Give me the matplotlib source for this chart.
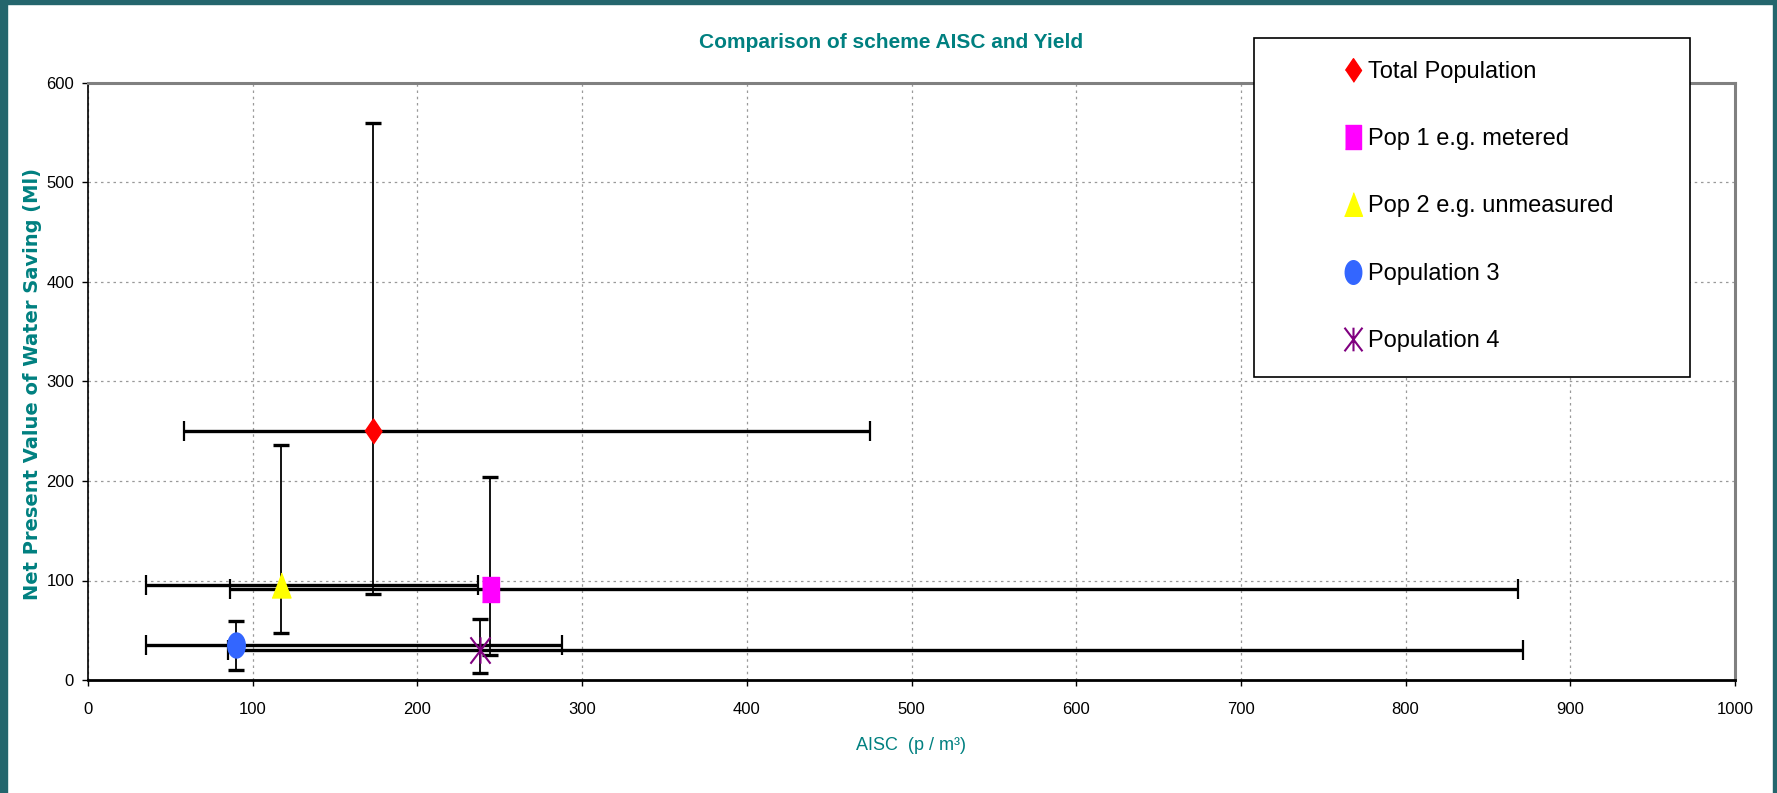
import numpy as np
import matplotlib
matplotlib.use("Agg")
import matplotlib.pyplot as plt
from matplotlib.path import Path
from matplotlib.patches import Rectangle
from matplotlib.lines import Line2D

# data
names = ["Total Population", "Pop 1 e.g. metered", "Pop 2 e.g. unmeasured",
         "Population 3", "Population 4"]
aisc = [173, 244, 117, 90, 238]
aisc_low = [58, 86, 35, 35, 85]
aisc_high = [475, 868, 237, 288, 871]
saving = [250, 91, 95, 35, 30]
saving_low = [86, 25, 47, 10, 7]
saving_high = [560, 204, 236, 59, 61]

colors = ["#ff0000", "#ff00ff", "#ffff00", "#3366ff", "#800080"]
teal = "#008080"
narrow = ["Liberation Sans Narrow", "Liberation Sans", "DejaVu Sans"]

# markers a bit taller than wide, like the original
diamond = [(0, -0.5), (0.34, 0), (0, 0.5), (-0.34, 0)]
square = [(-0.34, -0.5), (0.34, -0.5), (0.34, 0.5), (-0.34, 0.5)]
triangle = [(-0.38, -0.5), (0.38, -0.5), (0, 0.5)]
t = np.linspace(0, 2 * np.pi, 40)
ellipse = list(zip(0.35 * np.cos(t), 0.5 * np.sin(t)))
star = Path([(-0.38, -0.5), (0.38, 0.5), (-0.38, 0.5), (0.38, -0.5), (0, -0.5), (0, 0.5)],
            [Path.MOVETO, Path.LINETO, Path.MOVETO, Path.LINETO, Path.MOVETO, Path.LINETO])
markers = [diamond, square, triangle, ellipse, star]

fig = plt.figure(figsize=(17.77, 7.93), dpi=100)
fig.patch.set_facecolor("white")
ax = fig.add_axes([88 / 1777, 1 - 680 / 793, (1735 - 88) / 1777, (680 - 83) / 793])

# teal frame round the picture
border = "#24666d"
fig.patches.append(Rectangle((0, 0), 7 / 1777, 1, transform=fig.transFigure, color=border, zorder=0))
fig.patches.append(Rectangle((0, 1 - 4 / 793), 1, 4 / 793, transform=fig.transFigure, color=border, zorder=0))
fig.patches.append(Rectangle((1 - 4 / 1777, 0), 4 / 1777, 1, transform=fig.transFigure, color=border, zorder=0))

x = np.array(aisc)
y = np.array(saving)
xerr = [x - np.array(aisc_low), np.array(aisc_high) - x]
yerr = [y - np.array(saving_low), np.array(saving_high) - y]

ax.errorbar(x, y, xerr=xerr, fmt="none", ecolor="black", elinewidth=2.4,
            capsize=7, capthick=1.6, zorder=3)
ax.errorbar(x, y, yerr=yerr, fmt="none", ecolor="black", elinewidth=1.3,
            capsize=5.8, capthick=2.4, zorder=3)

handles = []
for i in range(len(names)):
    if i == 4:
        ax.plot(x[i], y[i], marker=markers[i], markersize=19, linestyle="none",
                markerfacecolor="none", markeredgecolor=colors[i], markeredgewidth=1.5, zorder=4)
        handles.append(Line2D([], [], marker=markers[i], markersize=17, linestyle="none",
                              markerfacecolor="none", markeredgecolor=colors[i], markeredgewidth=1.5))
    else:
        ax.plot(x[i], y[i], marker=markers[i], markersize=18, linestyle="none",
                markerfacecolor=colors[i], markeredgecolor=colors[i], zorder=4)
        handles.append(Line2D([], [], marker=markers[i], markersize=17, linestyle="none",
                              markerfacecolor=colors[i], markeredgecolor=colors[i]))

ax.set_xlim(0, 1000)
ax.set_ylim(0, 600)
ax.set_xticks(np.arange(0, 1001, 100))
ax.set_yticks(np.arange(0, 601, 100))
ax.grid(True, linestyle=(0, (2, 3)), color="#999999", linewidth=0.9)
ax.set_axisbelow(True)
ax.tick_params(direction="out", length=4, width=1, labelsize=12, pad=6)
for lab in ax.get_xticklabels() + ax.get_yticklabels():
    lab.set_family(narrow)
ax.tick_params(axis="x", pad=12)

for side in ["top", "right"]:
    ax.spines[side].set_color("#808080")
    ax.spines[side].set_linewidth(2.2)
ax.spines["left"].set_color("black")
ax.spines["left"].set_linewidth(1.2)
ax.spines["bottom"].set_color("black")
ax.spines["bottom"].set_linewidth(2.0)

fig.text(891 / 1777, 1 - 43 / 793, "Comparison of scheme AISC and Yield", color=teal,
         fontsize=15, fontweight="bold", family=narrow, ha="center", va="center")
fig.text(33 / 1777, 1 - 384 / 793, "Net Present Value of Water Saving (Ml)", color=teal,
         fontsize=14, fontweight="bold", rotation=90, ha="center", va="center")
fig.text(911 / 1777, 1 - 746 / 793, "AISC  (p / m³)", color=teal,
         fontsize=13, family=narrow, ha="center", va="center")

# legend box drawn separately, entries placed inside it
fig.patches.append(Rectangle((1254 / 1777, 1 - 377 / 793), (1690 - 1254) / 1777, (377 - 38) / 793,
                             transform=fig.transFigure, facecolor="white", edgecolor="black",
                             linewidth=1.2, zorder=5))
leg = fig.legend(handles, names, loc="upper left", frameon=False,
                 bbox_to_anchor=(1329 / 1777, 1 - 49 / 793), bbox_transform=fig.transFigure,
                 prop={"family": narrow, "size": 17}, handlelength=1.0, handletextpad=0.15,
                 labelspacing=1.92, borderpad=0)
leg.set_zorder(6)

fig.savefig("out.png", dpi=100)
